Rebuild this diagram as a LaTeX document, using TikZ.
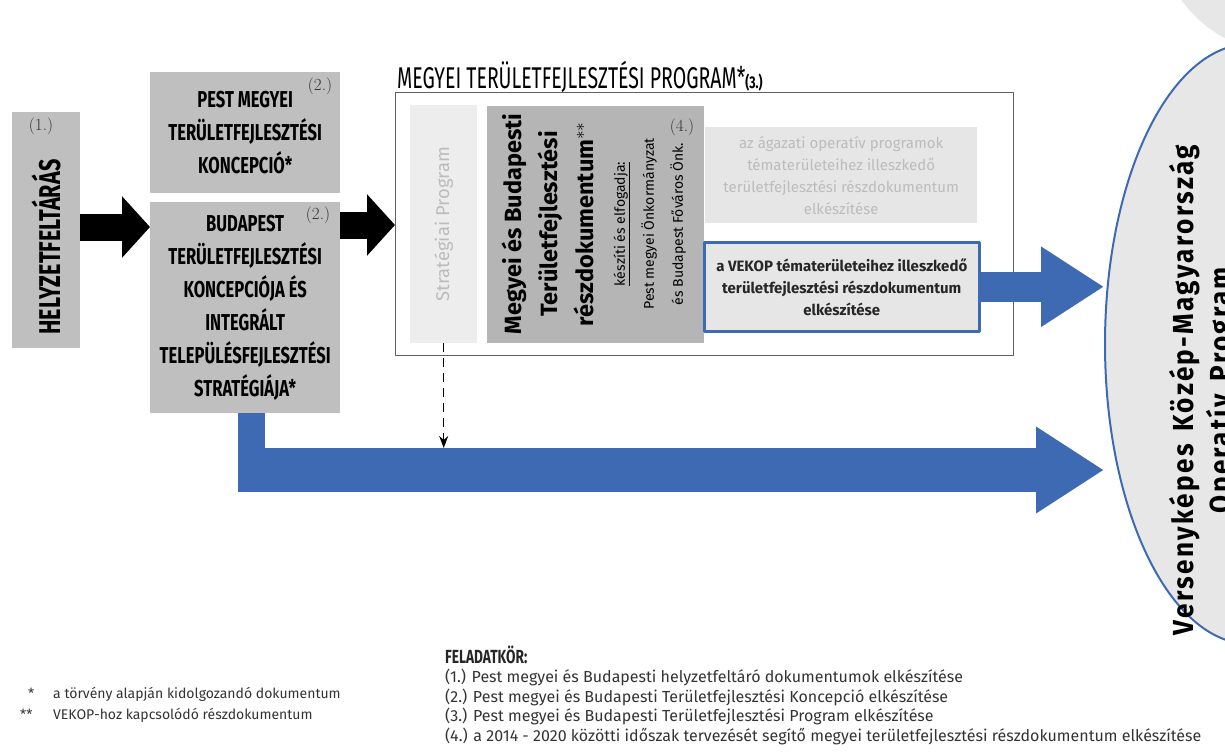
\documentclass[tikz,border=0pt]{standalone}
\usepackage{fontspec}
\newfontfamily\headfont[FakeStretch=0.72]{Fira Sans}
\newfontfamily\titlefont[FakeStretch=0.65]{Fira Sans}
\newfontfamily\bodyfont{Fira Sans}
\newfontfamily\ovalfont[FakeStretch=0.9, LetterSpace=8, WordSpace=1.5]{Fira Sans}
\usepackage{xcolor}
\usepackage{tikz}
\usetikzlibrary{arrows.meta,positioning,shapes.geometric,calc}

\definecolor{boxgray}{HTML}{BFBFBF}
\definecolor{rdgray}{HTML}{B5B5B5}
\definecolor{stripgray}{HTML}{EDEDED}
\definecolor{paletext}{HTML}{BCBCBC}
\definecolor{lightbox}{HTML}{E6E6E6}
\definecolor{vekopblue}{HTML}{3E6AB4}
\definecolor{ovalgray}{HTML}{E7E7E7}
\definecolor{framegray}{HTML}{606060}

\tikzset{
    % gray boxes of the documents
    gbox/.style = {fill=boxgray, inner sep=0, align=center},
    % caps text inside the boxes
    capstext/.style = {font=\headfont\bfseries\fontsize{23}{33}\selectfont},
    % small (n.) marks
    nmark/.style = {font=\fontsize{17}{17}\selectfont, inner sep=0, text=black!80},
    % black block arrows
    blkarrow/.style = {draw=black, line width=27pt, -{Triangle[length=28pt,width=60pt]}},
    % blue block arrows
    bluearrow/.style args = {#1/#2/#3}{draw=vekopblue, line width=#1pt, -{Triangle[length=#2pt,width=#3pt]}},
    % frame of the program
    progframe/.style = {draw=framegray, line width=1.3pt, inner sep=0},
    % plain text lines at the bottom
    notetext/.style = {font=\bodyfont\fontsize{14}{21}\selectfont, text=black!80, inner sep=0, align=left},
    % the operative program
    oval/.style = {ellipse, draw=vekopblue, line width=2pt, fill=ovalgray, inner sep=0}
}

\begin{document}
\begin{tikzpicture}[x=1pt, y=-1pt, line join=round]
\useasboundingbox (0,0) rectangle (1225,753);

%% right hand oval (program)
\fill[ovalgray] (1290,-80) circle (135);
\node[oval, minimum width=290, minimum height=600] (vkmop) at (1250,344) {};
\node[rotate=90, align=center, inner sep=0, font=\ovalfont\bfseries\fontsize{29}{37}\selectfont] (vkmoptxt) at (1203,390) {Versenyképes Közép-Magyarország\\Operatív Program};

%% first column
\node[gbox, anchor=north west, minimum width=68, minimum height=236] (hely) at (12,112) {};
\node[rotate=90, inner sep=0, font=\headfont\bfseries\fontsize{30}{30}\selectfont] (helytxt) at (46,247) {HELYZETFELTÁRÁS};
\node[nmark] (n1) at (41,126) {(1.)};

%% second column
\node[gbox, capstext, anchor=north west, minimum width=190, minimum height=121] (pest) at (150,72) {PEST MEGYEI\\TERÜLETFEJLESZTÉSI\\KONCEPCIÓ*};
\node[gbox, capstext, anchor=north west, minimum width=190, minimum height=211] (budapest) at (150,202) {BUDAPEST\\TERÜLETFEJLESZTÉSI\\KONCEPCIÓJA ÉS\\INTEGRÁLT\\TELEPÜLÉSFEJLESZTÉSI\\STRATÉGIÁJA*};
\node[nmark] (n2a) at (320,86) {(2.)};
\node[nmark] (n2b) at (318,215) {(2.)};

%% program frame
\node[progframe, anchor=north west, minimum width=618, minimum height=263] (prog) at (395,92) {};
\node[anchor=base west, inner sep=0, font=\titlefont\fontsize{30}{30}\selectfont] (progtitle) at (397,88) {MEGYEI TERÜLETFEJLESZTÉSI PROGRAM*{\headfont\bfseries\fontsize{17}{17}\selectfont(3.)}};

\node[fill=stripgray, inner sep=0, anchor=north west, minimum width=67, minimum height=238] (strip) at (410,105) {};
\node[rotate=90, inner sep=0, text=paletext, font=\bodyfont\fontsize{18.5}{18.5}\selectfont] (striptxt) at (strip.center) {Stratégiai Program};

\node[fill=rdgray, inner sep=0, anchor=north west, minimum width=217, minimum height=237] (rdok) at (487,106) {};
\node[rotate=90, inner sep=0, align=center, font=\bodyfont\fontsize{14}{29}\selectfont] (rdoktxt) at (594,224)
  {{\bfseries\fontsize{23.5}{29}\selectfont Megyei és Budapesti}\\[7pt]
   {\bfseries\fontsize{23.5}{29}\selectfont Területfejlesztési}\\[7pt]
   {\bfseries\fontsize{23.5}{29}\selectfont részdokumentum$^{**}$}\\[2pt]
   \underline{készíti és elfogadja:}\\
   Pest megyei Önkormányzat\\
   és Budapest Főváros Önk.};
\node[nmark] (n4) at (682,127) {(4.)};

\node[fill=lightbox, inner sep=0, anchor=north west, minimum width=272, minimum height=96, align=center, text=paletext, font=\bodyfont\fontsize{15}{22}\selectfont] (agazati) at (705,127)
  {az ágazati operatív programok\\tématerületeihez illeszkedő\\területfejlesztési részdokumentum\\elkészítése};

\node[fill=lightbox, draw=vekopblue, line width=2.5pt, inner sep=0, anchor=north west, minimum width=275, minimum height=89, align=center, text=black!85, font=\bodyfont\bfseries\fontsize{15}{22}\selectfont] (vekop) at (703,241)
  {a VEKOP tématerületeihez illeszkedő\\területfejlesztési részdokumentum\\elkészítése};

%% arrows
\coordinate (bend) at (251.5,470);
\coordinate (bandtop) at (251.5,448);
\draw[blkarrow] (hely.east |- 0,227) -- (budapest.west |- 0,227);
\draw[blkarrow] (budapest.east |- 0,225) -- (prog.west |- 0,225);
\draw[bluearrow=30/63/76] (vekop.east) -- (vekop.east -| vkmop.west);
\draw[draw=vekopblue, line width=27pt] (budapest.south -| bend) -- ($(bend)+(0,22)$);
\draw[bluearrow=44/68/82] ($(bend)+(-13.5,0)$) -- (bend -| vkmop.west);
\draw[dashed, line width=1.3pt, dash pattern=on 9pt off 6pt, -{Stealth[length=12pt,width=9pt]}] (strip.south) -- (strip.south |- bandtop);

%% notes
\node[notetext, anchor=base west] (star1) at (28,698) {*};
\node[notetext, anchor=base west] (star2) at (20,719) {**};
\node[notetext, anchor=base west] (note1) at (53,698) {a törvény alapján kidolgozandó dokumentum};
\node[notetext, anchor=base west] (note2) at (53,719) {VEKOP-hoz kapcsolódó részdokumentum};

\node[anchor=base west, inner sep=0, font=\headfont\bfseries\fontsize{19}{19}\selectfont, text=black!85] (feladat) at (445,663) {FELADATKÖR:};
\node[anchor=north west, inner sep=0, align=left, text=black!80, font=\bodyfont\fontsize{16}{19.5}\selectfont] (tasks) at (445,669)
  {(1.) Pest megyei és Budapesti helyzetfeltáró dokumentumok elkészítése\\
   (2.) Pest megyei és Budapesti Területfejlesztési Koncepció elkészítése\\
   (3.) Pest megyei és Budapesti Területfejlesztési Program elkészítése\\
   (4.) a 2014 - 2020 közötti időszak tervezését segítő megyei területfejlesztési részdokumentum elkészítése};

\end{tikzpicture}
\end{document}
